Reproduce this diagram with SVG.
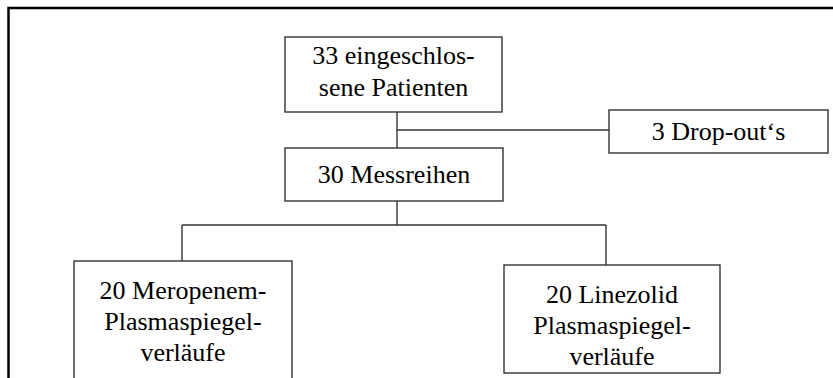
<svg xmlns="http://www.w3.org/2000/svg" width="833" height="378" viewBox="0 0 833 378">
<style>
.box{fill:#fff;stroke:#333;stroke-width:1.4}
.lbl{font-size:26px;fill:#000;text-anchor:middle}
.conn{fill:none;stroke:#333;stroke-width:1.4}
</style>
<rect width="833" height="378" fill="#fff"/>
<path d="M836 8 H8.5 V380" fill="none" stroke="#000" stroke-width="2.5"/>
<g id="connectors">
<path class="conn" d="M397 112 V148"/>
<path class="conn" d="M397 130 H609"/>
<path class="conn" d="M397 201 V225"/>
<path class="conn" d="M182 225 H606"/>
<path class="conn" d="M182 225 V261"/>
<path class="conn" d="M606 225 V265"/>
</g>
<g font-family="Liberation Serif, DejaVu Serif, serif">
<g id="n1">
<rect class="box" x="285" y="37" width="217" height="75"/>
<text class="lbl" x="393.5" y="64">33 eingeschlos-</text>
<text class="lbl" x="393.5" y="96">sene Patienten</text>
</g>
<g id="n2">
<rect class="box" x="609" y="110" width="219" height="43"/>
<text class="lbl" x="718.5" y="140">3 Drop-out‘s</text>
</g>
<g id="n3">
<rect class="box" x="285" y="148" width="218" height="53"/>
<text class="lbl" x="394" y="183">30 Messreihen</text>
</g>
<g id="n4">
<rect class="box" x="74" y="261" width="218" height="130"/>
<text class="lbl" x="183" y="299">20 Meropenem-</text>
<text class="lbl" x="183" y="330">Plasmaspiegel-</text>
<text class="lbl" x="183" y="361">verläufe</text>
</g>
<g id="n5">
<rect class="box" x="504" y="265" width="216" height="108"/>
<text class="lbl" x="612" y="303">20 Linezolid</text>
<text class="lbl" x="612" y="334">Plasmaspiegel-</text>
<text class="lbl" x="612" y="365">verläufe</text>
</g>
</g>
</svg>
